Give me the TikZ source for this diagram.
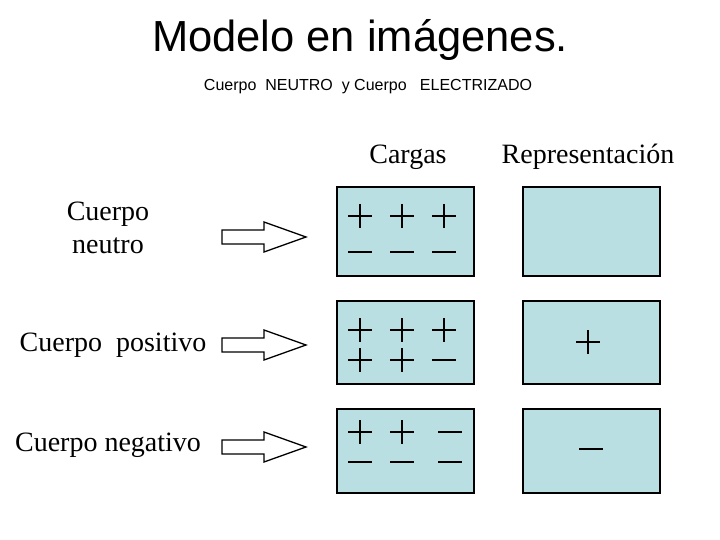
\documentclass[tikz,border=0pt]{standalone}
\usepackage{fontspec}
\setmainfont{Liberation Serif}
\newfontfamily\arial{Liberation Sans}
\definecolor{boxc}{RGB}{186,223,227}
\begin{document}
\begin{tikzpicture}[x=1pt,y=-1pt,
  cbox/.style={draw,line width=1.5pt,fill=boxc},
  sgn/.style={line width=1.3pt},
  lab/.style={font=\fontsize{28}{33}\selectfont,align=center}]
\useasboundingbox (0,0) rectangle (720,540);
\newcommand\pl[2]{\draw[sgn] (#1-12,#2)--(#1+12,#2) (#1,#2-12)--(#1,#2+12);}
\newcommand\mi[2]{\draw[sgn] (#1-12,#2)--(#1+12,#2);}
\newcommand\arr[1]{\draw[line width=1.3pt] (222,#1-7)--(264,#1-7)--(264,#1-15)--(306,#1)--(264,#1+15)--(264,#1+7)--(222,#1+7)--cycle;}
\node[font=\arial\fontsize{43.5}{48}\selectfont] (t) at (360,40) {Modelo en imágenes.};
\node[font=\arial\fontsize{16}{18}\selectfont] (s) at (368,87) {Cuerpo\ \ NEUTRO\ \ y Cuerpo\ \ \ ELECTRIZADO};
\node[lab] (c) at (408,157) {Cargas};
\node[lab] (r) at (588,157) {Representación};
\node[lab] (n) at (108,228) {Cuerpo\\ neutro};
\node[lab] (p) at (113,345) {Cuerpo\ \ positivo};
\node[lab] (g) at (108,445) {Cuerpo negativo};
\foreach \a/\b in {187/276,301/384,409/493}{
  \draw[cbox] (337,\a) rectangle (474,\b);
  \draw[cbox] (523,\a) rectangle (660,\b);}
\arr{237}\arr{345}\arr{447}
\pl{360}{216}\pl{402}{216}\pl{444}{216}
\mi{360}{252}\mi{402}{252}\mi{444}{252}
\pl{360}{330}\pl{402}{330}\pl{444}{330}
\pl{360}{360}\pl{402}{360}\mi{444}{360}
\pl{360}{432}\pl{402}{432}\mi{450}{432}
\mi{360}{462}\mi{402}{462}\mi{450}{462}
\pl{588}{342}\mi{591}{449}
\end{tikzpicture}
\end{document}
